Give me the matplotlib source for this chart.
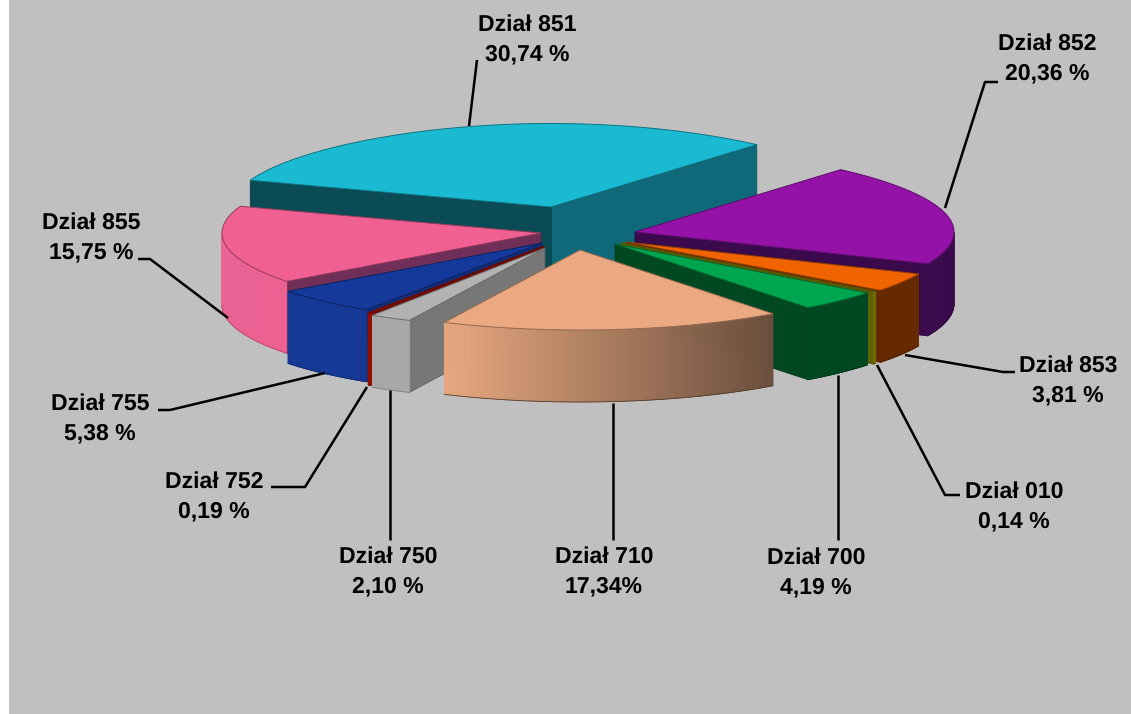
import numpy as np
import matplotlib
matplotlib.use('Agg')
import matplotlib.pyplot as plt
from matplotlib.colors import to_rgb
from matplotlib.patches import Polygon, Rectangle

plt.rcParams['text.hinting'] = 'none'
plt.rcParams['text.hinting_factor'] = 1

# clockwise from the left edge of the 851 slice
dzialy = ['851', '852', '853', '010', '700', '710', '750', '752', '755', '855']
udzial = [30.74, 20.36, 3.81, 0.14, 4.19, 17.34, 2.10, 0.19, 5.38, 15.75]
opisy = ['30,74 %', '20,36 %', '3,81 %', '0,14 %', '4,19 %',
         '17,34%', '2,10 %', '0,19 %', '5,38 %', '15,75 %']

# where each exploded slice has its tip, in pixels
czubki = [(551, 207), (635, 232), (626, 242), (621, 243), (615, 244),
          (580, 250), (545, 248), (544, 246), (542, 243), (541, 233)]

gora = ['#19BAD2', '#9512A8', '#F06400', '#8A8A00', '#00A64F',
        '#EBA982', '#B2B2B2', '#A81000', '#15399B', '#F06092']
sciana_a = ['#0F6978', '#3A0A4C', '#662A00', '#606000', '#004822',
            '#6B4E3C', '#777777', '#700A00', '#122E78', '#6F2F58']
sciana_b = ['#0A4B56', '#3A0A4C', '#662A00', '#606000', '#004822',
            '#6B4E3C', '#777777', '#700A00', '#122E78', '#6F2F58']
bok_l = ['#0F6978', '#3A0A4C', '#662A00', '#6E6E00', '#004822',
         '#E8A880', '#A8A8A8', '#8E1000', '#153995', '#EA6496']
bok_p = ['#0F6978', '#3A0A4C', '#662A00', '#6E6E00', '#004822',
         '#6B4E3C', '#A8A8A8', '#8E1000', '#153995', '#EE5F90']

kolejnosc = ['851', '852', '855', '853', '010', '700', '755', '752', '750', '710']

opis_xy = [(527, 25), (1047, 44), (1068, 366), (1014, 492), (816, 558),
           (604, 557), (388, 557), (214, 482), (100, 404), (91, 223)]
linie = [[(469, 126), (477, 60)],
         [(945, 208), (985, 82), (998, 82)],
         [(905, 355), (1003, 372), (1015, 372)],
         [(877, 365), (945, 495), (960, 495)],
         [(838, 375), (838, 540)],
         [(613, 403), (613, 540)],
         [(390, 390), (390, 540)],
         [(367, 387), (305, 487), (271, 487)],
         [(325, 373), (170, 410), (158, 410)],
         [(228, 318), (150, 259), (138, 259)]]

START = 160.5
RX, RY = 319, 80
DEPTH = 72
BACK_BULGE = 3.5  # back of the pie sits a little higher than a plain ellipse
FONT = 'Liberation Sans'


def ciemniej(kolor, f=0.62):
    return tuple(c * f for c in to_rgb(kolor))


def rysuj_wycinek(ax, i, kat_a, kat_b):
    cx, cy = czubki[i]
    ts = np.radians(np.linspace(kat_a, kat_b, 120))
    xs = cx + RX * np.cos(ts)
    ys = cy - RY * np.sin(ts) - BACK_BULGE * np.clip(np.sin(ts), 0, 1) ** 4

    # radial walls, only those facing the viewer
    if np.cos(np.radians(kat_a)) > 0:
        pts = [(cx, cy), (xs[0], ys[0]), (xs[0], ys[0] + DEPTH), (cx, cy + DEPTH)]
        ax.add_patch(Polygon(pts, fc=sciana_a[i], ec=ciemniej(sciana_a[i], 0.8), lw=0.6))
    if np.cos(np.radians(kat_b)) < 0:
        pts = [(cx, cy), (xs[-1], ys[-1]), (xs[-1], ys[-1] + DEPTH), (cx, cy + DEPTH)]
        ax.add_patch(Polygon(pts, fc=sciana_b[i], ec=ciemniej(sciana_b[i], 0.8), lw=0.6))

    # outer rim, shaded left to right
    lewy, prawy = np.array(to_rgb(bok_l[i])), np.array(to_rgb(bok_p[i]))
    widoczne = np.sin(ts) < 0
    if widoczne.any():
        xmin, xmax = xs[widoczne].min(), xs[widoczne].max()
        for k in range(len(ts) - 1):
            if not (widoczne[k] and widoczne[k + 1]):
                continue
            f = (0.5 * (xs[k] + xs[k + 1]) - xmin) / max(xmax - xmin, 1)
            c = lewy + (prawy - lewy) * f
            quad = [(xs[k], ys[k]), (xs[k + 1], ys[k + 1]),
                    (xs[k + 1], ys[k + 1] + DEPTH), (xs[k], ys[k] + DEPTH)]
            ax.add_patch(Polygon(quad, fc=c, ec=c, lw=0.5))
        ax.plot(xs[widoczne], ys[widoczne] + DEPTH, color=ciemniej(bok_p[i], 0.75), lw=0.6)

    # top face
    pts = np.column_stack([np.r_[cx, xs], np.r_[cy, ys]])
    ax.add_patch(Polygon(pts, fc=gora[i], ec=ciemniej(gora[i]), lw=0.7))


fig = plt.figure(figsize=(11.31, 7.14), dpi=100, facecolor='white')
ax = fig.add_axes([0, 0, 1, 1])
ax.set_xlim(0, 1131)
ax.set_ylim(714, 0)
ax.axis('off')
ax.add_patch(Rectangle((9, 0), 1122, 714, fc='#C0C0C0', ec='none'))

# slice angles come from the shares, running clockwise
katy = START - np.cumsum([0] + udzial) * 3.6

for d in kolejnosc:
    i = dzialy.index(d)
    rysuj_wycinek(ax, i, katy[i + 1], katy[i])

for i, d in enumerate(dzialy):
    lx, ly = zip(*linie[i])
    ax.plot(lx, ly, color='black', lw=1.8, solid_capstyle='butt', zorder=5)
    x, y = opis_xy[i]
    ax.text(x, y, f'Dział {d}', ha='center', va='center', fontsize=16.8,
            fontweight='bold', family=FONT, zorder=6)
    ax.text(x, y + 29, opisy[i], ha='center', va='center', fontsize=16.8,
            fontweight='bold', family=FONT, zorder=6)

fig.savefig('out.png', dpi=100)
